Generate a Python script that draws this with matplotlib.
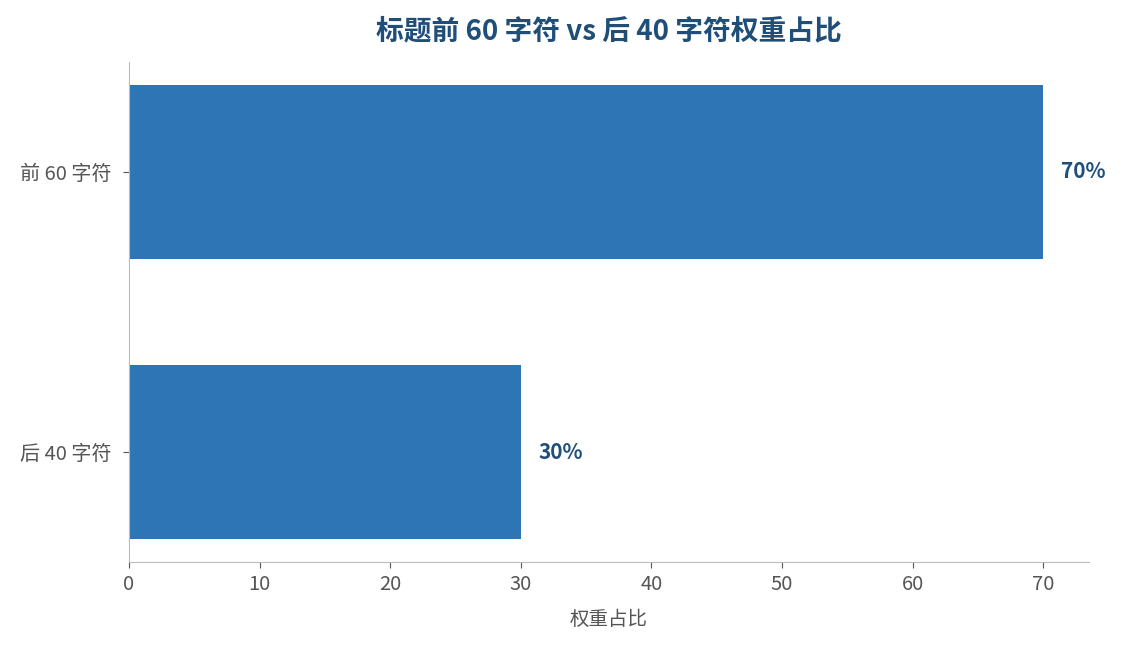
import matplotlib
matplotlib.use("Agg")
import matplotlib.pyplot as plt

plt.rcParams["font.family"] = ["Noto Sans CJK SC", "DejaVu Sans"]

categories = ["前 60 字符", "后 40 字符"]
weights = [70, 30]
value_labels = ["70%", "30%"]

bar_color = "#2e75b6"
dark_blue = "#1f4e79"
gray = "#555555"

fig = plt.figure(figsize=(11.22, 6.45), dpi=100)
ax = fig.add_axes([0.115, 0.1287, 0.8556, 0.7752])

ypos = list(range(len(categories)))
ax.barh(ypos, weights, height=0.62, color=bar_color)
ax.set_yticks(ypos)
ax.set_yticklabels(categories)
ax.invert_yaxis()
ax.set_xlim(0, 73.5)

for y, w, lab in zip(ypos, weights, value_labels):
    ax.annotate(lab, (w, y), xytext=(13, 0), textcoords="offset points",
                ha="left", va="center", fontsize=15, fontweight="bold",
                color=dark_blue)

ax.set_title("标题前 60 字符 vs 后 40 字符权重占比", fontsize=20,
             fontweight="bold", color=dark_blue, pad=16)
ax.set_xlabel("权重占比", fontsize=14, color=gray, labelpad=10)

for s in ["top", "right"]:
    ax.spines[s].set_visible(False)
for s in ["left", "bottom"]:
    ax.spines[s].set_color("#bbbbbb")
ax.tick_params(colors=gray, labelsize=14.5, length=4.5)
ax.tick_params(axis="y", pad=8)
ax.tick_params(axis="x", pad=4)

fig.savefig("out.png", dpi=100)
